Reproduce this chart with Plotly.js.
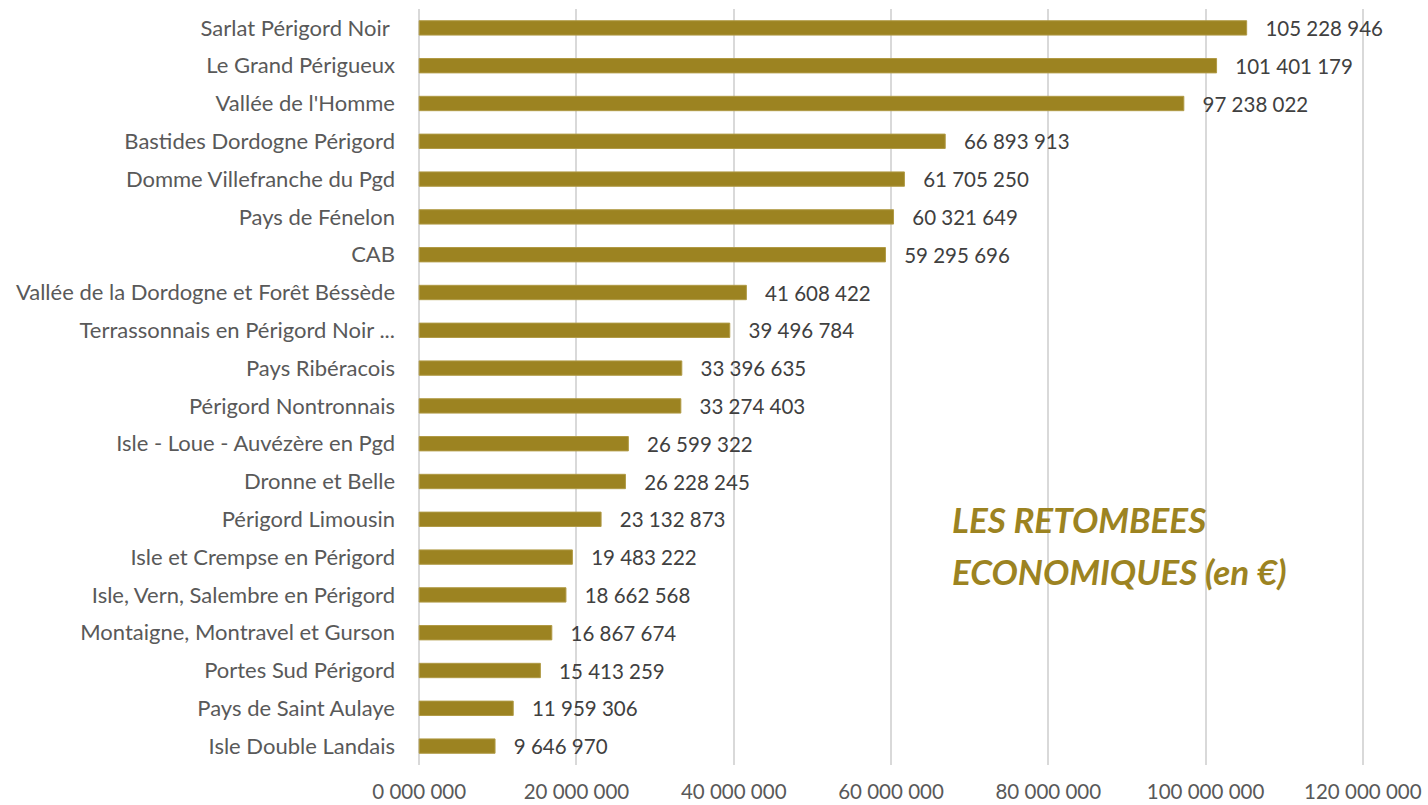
<!DOCTYPE html>
<html><head><meta charset="utf-8">
<script src="https://cdn.plot.ly/plotly-3.0.1.min.js"></script>
<style>html,body{margin:0;padding:0;background:#fff;}#chart{width:1428px;height:805px;}</style>
</head><body><div id="chart"></div>
<script>
const categories = ["Sarlat Périgord Noir ","Le Grand Périgueux","Vallée de l'Homme","Bastides Dordogne Périgord","Domme Villefranche du Pgd","Pays de Fénelon","CAB","Vallée de la Dordogne et Forêt Béssède","Terrassonnais en Périgord Noir ...","Pays Ribéracois","Périgord Nontronnais","Isle - Loue - Auvézère en Pgd","Dronne et Belle","Périgord Limousin","Isle et Crempse en Périgord","Isle, Vern, Salembre en Périgord","Montaigne, Montravel et Gurson","Portes Sud Périgord","Pays de Saint Aulaye","Isle Double Landais"];
const values = [105228946,101401179,97238022,66893913,61705250,60321649,59295696,41608422,39496784,33396635,33274403,26599322,26228245,23132873,19483222,18662568,16867674,15413259,11959306,9646970];
const tickVals = [0,20000000,40000000,60000000,80000000,100000000,120000000];
const tickLabels = ["0 000 000","20 000 000","40 000 000","60 000 000","80 000 000","100 000 000","120 000 000"];
const titleLines = ["LES RETOMBEES","ECONOMIQUES (en €)"];

const fmt = v => String(v).replace(/\B(?=(\d{3})+(?!\d))/g, " ");
const gold = "#9C8321";
const font = "Lato, Open Sans, sans-serif";

const trace = {
  type: "bar", orientation: "h",
  x: values, y: categories,
  text: values.map(v => "   " + fmt(v)),
  textposition: "outside", cliponaxis: false, constraintext: "none",
  textfont: {family: font, size: 20.5, color: "#404040"},
  marker: {color: gold, line: {color: "#B09A45", width: 1}},
  hoverinfo: "x+y"
};
const layout = {
  width: 1428, height: 805,
  margin: {l: 418, r: 64, t: 9, b: 40},
  paper_bgcolor: "#fff", plot_bgcolor: "#fff",
  bargap: 0.62,
  showlegend: false,
  font: {family: font, color: "#595959", size: 20},
  xaxis: {range: [-150000, 120150000], tickvals: tickVals, ticktext: tickLabels,
    showgrid: true, gridcolor: "#D9D9D9", gridwidth: 2,
    zeroline: true, zerolinecolor: "#D9D9D9", zerolinewidth: 2,
    showline: false, ticks: "", ticklabelstandoff: 12,
    tickfont: {family: font, size: 20.5, color: "#595959"}, fixedrange: true},
  yaxis: {categoryorder: "array", categoryarray: categories.slice().reverse(),
    autorange: true, showgrid: false, zeroline: false, showline: false, ticks: "",
    ticklabelstandoff: 22,
    tickfont: {family: font, size: 22, color: "#595959"}},
  shapes: [{type: "rect", xref: "paper", yref: "paper", x0: 0.545, x1: 0.93, y0: 0.185, y1: 0.374,
    fillcolor: "#fff", line: {width: 0}, layer: "between"}],
  annotations: titleLines.map((t, i) => ({
    xref: "paper", yref: "paper", x: 0.562, y: i === 0 ? 0.326 : 0.256,
    xanchor: "left", yanchor: "middle",
    text: "<b><i>" + t + "</i></b>", showarrow: false,
    font: {family: font, size: 35, color: gold}
  }))
};
Plotly.newPlot("chart", [trace], layout, {displayModeBar: false, staticPlot: true});
</script></body></html>
